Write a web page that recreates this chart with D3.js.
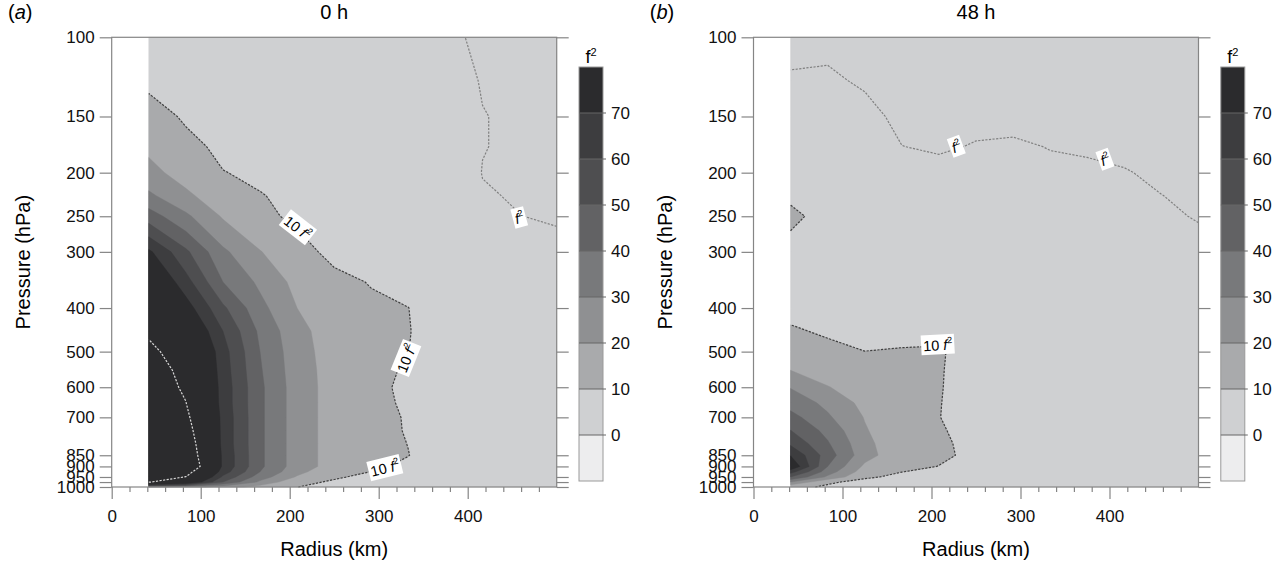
<!DOCTYPE html>
<html><head><meta charset="utf-8">
<script src="https://cdn.jsdelivr.net/npm/d3@7"></script>
<style>body{margin:0;background:#fff}svg{display:block;font-family:"Liberation Sans",Arial,Helvetica,sans-serif}</style>
</head><body>
<svg id="c" width="1285" height="564"></svg>
<script>
// ---------------- data ----------------
const radii = [41.67, 83.33, 125, 166.67, 208.33, 250, 291.67, 333.33, 375, 416.67, 458.33, 500];
const levels = [100,125,150,175,200,225,250,300,350,400,450,500,550,600,650,700,750,800,850,900,925,950,975,1000];
// values in units of f^2, rows follow `levels`, columns follow `radii`
const field0h = [
 [6, 5.5, 5, 4.5, 4, 3.5, 3, 2.5, 1.8, 0.3, 0.2, 0.1],
 [8.5, 7.5, 6.5, 5.5, 5, 4.5, 4, 3.5, 2.5, 0.8, 0.4, 0.3],
 [13, 9.1, 8, 7, 6, 5, 4.5, 4, 3, 1.1, 0.5, 0.4],
 [18, 11.9, 8.5, 8, 7, 6, 5, 4.5, 3.5, 1.1, 0.5, 0.4],
 [23, 16, 10.2, 8.8, 7.5, 6.5, 5.5, 5, 4, 0.9, 0.5, 0.4],
 [32, 22, 14, 10.3, 8.5, 7.5, 6.5, 5.5, 4.5, 1.3, 0.7, 0.5],
 [45, 32, 19, 11.2, 9, 8, 7, 6, 5, 2, 1.05, 0.6],
 [72, 52, 32, 20.5, 12, 8.5, 7.5, 6.5, 5.5, 4, 3, 2.1],
 [85, 64, 40, 28, 17, 11.5, 9.7, 8.5, 6.5, 5, 4, 3.5],
 [93, 75, 52, 33, 20, 14, 11, 10.05, 7, 5.5, 4.5, 4],
 [98, 85, 60, 38, 23, 15, 11.5, 10.2, 7.5, 5.5, 4.5, 4],
 [103, 93.4, 64, 40, 24, 15.5, 11.5, 10.05, 7.5, 5.5, 4.5, 4],
 [107, 96, 65, 41, 24.5, 16, 11, 9.6, 7, 5.5, 4.5, 4],
 [110, 97.6, 66, 42, 25, 16, 11.5, 8.8, 7, 5.5, 4.5, 4],
 [112, 100.3, 66, 42, 25, 16, 11.5, 9.2, 7, 5.5, 4.5, 4],
 [113, 104, 67, 42, 25, 16, 12, 9.5, 7, 5.5, 4.5, 4],
 [114, 108, 67, 42, 25, 16, 12, 9.6, 7, 5.5, 4.5, 4],
 [114, 112, 67, 42, 25, 16, 12, 9.9, 7, 5.5, 4.5, 4],
 [113, 115, 68, 42, 25, 16, 12, 10.1, 7, 5.5, 4.5, 4],
 [112, 120, 68, 42, 25, 16, 11, 9, 7, 5.5, 4.5, 4],
 [110, 108, 65, 40, 23, 12.5, 9.9, 8.5, 6.5, 5, 4.2, 3.8],
 [110, 99.5, 58, 35, 19, 11, 8, 7, 6, 4.8, 4, 3.6],
 [101, 85, 50, 28, 12, 9, 7, 6, 5, 4.5, 3.8, 3.5],
 [40, 35, 25, 16, 10.1, 7, 6, 5, 4.5, 4, 3.5, 3.2]
];
const field48h = [
 [0.6, 0.6, 0.5, 0.4, 0.4, 0.4, 0.4, 0.4, 0.4, 0.4, 0.4, 0.4],
 [1.15, 1.25, 0.8, 0.5, 0.5, 0.5, 0.5, 0.5, 0.5, 0.5, 0.5, 0.5],
 [2, 2, 1.5, 0.6, 0.6, 0.6, 0.6, 0.6, 0.6, 0.5, 0.5, 0.5],
 [3, 3, 2.5, 1.02, 0.8, 1.1, 1.2, 0.95, 0.8, 0.6, 0.5, 0.5],
 [4, 4, 3.5, 2, 1.5, 2, 2, 1.3, 1.3, 1.1, 0.7, 0.6],
 [8, 5, 4, 3, 2.5, 2.5, 2.5, 2, 2, 1.6, 1.02, 0.7],
 [12.5, 6, 4.5, 3.5, 3, 3, 3, 2.5, 2.5, 2, 1.5, 0.8],
 [6, 5.5, 4.5, 4, 3.5, 3.5, 3.5, 3, 3, 2.5, 2.2, 2],
 [6.5, 5.5, 5, 4.5, 4, 4, 4, 3.5, 3.5, 3, 2.8, 2.5],
 [8, 7, 6, 5, 4.5, 4.5, 4.5, 4, 4, 3.5, 3.2, 3],
 [10.8, 9.1, 8, 8, 8, 6, 5, 4.5, 4.5, 4, 3.5, 3.2],
 [14.5, 11.75, 10.05, 10.5, 10.8, 6.6, 5.5, 5, 4.5, 4, 3.5, 3.2],
 [20, 15, 12.5, 10.8, 10.5, 7, 5.8, 5, 4.5, 4, 3.5, 3.2],
 [29.5, 20.5, 14.5, 11, 10.4, 7, 6, 5, 4.5, 4, 3.5, 3.2],
 [36, 27.5, 17, 11.2, 10.25, 7, 6, 5, 4.5, 4, 3.5, 3.2],
 [43.5, 31.5, 19.5, 11.5, 10.15, 7, 6, 5, 4.5, 4, 3.5, 3.2],
 [50.3, 37, 21, 12, 10.8, 7.2, 6, 5, 4.5, 4, 3.5, 3.2],
 [58, 41, 23, 12, 11.5, 7.5, 6, 5, 4.5, 4, 3.5, 3.2],
 [69.5, 45, 24, 12.9, 12, 7.5, 6, 5, 4.5, 4, 3.5, 3.2],
 [80, 40, 18, 13, 9.8, 7, 6, 5, 4.5, 4, 3.5, 3.2],
 [64, 35, 15, 10.1, 8.5, 6.5, 5.5, 5, 4.5, 4, 3.5, 3.2],
 [50, 28, 11, 8.5, 7.5, 6, 5.5, 4.8, 4.3, 3.8, 3.4, 3.1],
 [30, 11, 8, 7, 6.5, 5.5, 5, 4.6, 4.2, 3.7, 3.3, 3],
 [12, 9, 7, 6, 5.5, 5, 4.6, 4.3, 4, 3.6, 3.2, 2.9]
];
const shadeLevels = [0, 10, 20, 30, 40, 50, 60, 70];
const shadeColors = ["#ededee", "#cfd0d2", "#a9aaac", "#8f9092", "#78797b", "#626264", "#4e4e50", "#3d3d3f", "#2b2b2d"];
const lineLevels = [1, 10, 100];
const lineColors = ["#808080", "#404040", "#d6d6d6"];
const pTicks = [100, 150, 200, 250, 300, 400, 500, 600, 700, 850, 900, 950, 975, 1000];
const pTickLabels = ["100", "150", "200", "250", "300", "400", "500", "600", "700", "850", "900", "950", "", "1000"];
const rTicks = [0, 100, 200, 300, 400];
const rMinorTicks = [20, 40, 60, 80, 120, 140, 160, 180, 220, 240, 260, 280, 320, 340, 360, 380, 420, 440, 460, 480];
const panelTitles = ["0 h", "48 h"];
const panelTags = ["a", "b"];
const cbLabels = [0, 10, 20, 30, 40, 50, 60, 70];
// contour labels: radius, pressure, angle, coefficient text
const labels0h = [
 {r: 209, p: 265, a: 38, t: "10 "},
 {r: 331, p: 517, a: -68, t: "10 "},
 {r: 307, p: 907, a: -14, t: "10 "},
 {r: 458, p: 252, a: -15, t: ""}
];
const labels48h = [
 {r: 228, p: 175, a: -20, t: ""},
 {r: 395, p: 187, a: -20, t: ""},
 {r: 207, p: 483, a: -3, t: "10 "}
];

// ---------------- drawing ----------------
const svg = d3.select("#c");
const W = 445, X0 = 111.7, DX = 641.8;
const y = d3.scaleLog().domain([100, 1000]).range([37.3, 487]);
const nx = radii.length, ny = levels.length;
function idx(arr, c) {
  const n = arr.length;
  const s = Math.max(0, Math.min(n - 1, c - 0.5));
  const i = Math.min(n - 2, Math.floor(s)), f = s - i;
  return arr[i] + (arr[i + 1] - arr[i]) * f;
}
function sIdx(c, n) { return Math.max(0, Math.min(n - 1, c - 0.5)); }
function onBoundary(a, b) {
  const ax = sIdx(a[0], nx), bx = sIdx(b[0], nx), ay = sIdx(a[1], ny), by = sIdx(b[1], ny);
  return (ax === 0 && bx === 0) || (ax === nx - 1 && bx === nx - 1) ||
         (ay === 0 && by === 0) || (ay === ny - 1 && by === ny - 1);
}

function drawPanel(k, field, labels) {
  const x0 = X0 + k * DX;
  const x = d3.scaleLinear().domain([0, 500]).range([x0, x0 + W]);
  const g = svg.append("g");
  const values = field.flat();
  const proj = d3.geoTransform({point(cx, cy) { this.stream.point(x(idx(radii, cx)), y(idx(levels, cy))); }});
  const path = d3.geoPath(proj);
  const px = (pt) => [x(idx(radii, pt[0])), y(idx(levels, pt[1]))];

  g.append("rect").attr("x", x(radii[0])).attr("y", y(levels[0]))
    .attr("width", x(radii[nx - 1]) - x(radii[0])).attr("height", y(levels[ny - 1]) - y(levels[0]))
    .attr("fill", shadeColors[0]);
  d3.contours().size([nx, ny]).thresholds(shadeLevels)(values).forEach((c, i) => {
    g.append("path").attr("d", path(c)).attr("fill", shadeColors[i + 1])
      .attr("stroke", shadeColors[i + 1]).attr("stroke-width", 0.4);
  });

  // contour lines (interior parts only)
  d3.contours().size([nx, ny]).thresholds(lineLevels)(values).forEach((c, li) => {
    const lines = [];
    c.coordinates.forEach(poly => poly.forEach(ringIn => {
      let ring = ringIn.slice(0, -1);
      const m = ring.length;
      let start = -1;
      for (let i = 0; i < m; i++) if (onBoundary(ring[i], ring[(i + 1) % m])) { start = i + 1; break; }
      if (start < 0) { lines.push(ringIn.map(px)); return; }
      ring = ring.slice(start).concat(ring.slice(0, start));
      let cur = [];
      for (let i = 0; i < m; i++) {
        const a = ring[i], b = ring[(i + 1) % m];
        if (onBoundary(a, b)) { if (cur.length > 1) lines.push(cur); cur = []; continue; }
        if (!cur.length) cur.push(px(a));
        cur.push(px(b));
      }
      if (cur.length > 1) lines.push(cur);
    }));
    lines.forEach(l => g.append("path").attr("d", d3.line()(l)).attr("fill", "none")
      .attr("stroke", lineColors[li]).attr("stroke-width", 1.2).attr("stroke-dasharray", "2.2,1.4"));
  });

  // labels
  labels.forEach(L => {
    const lg = g.append("g").attr("transform", `translate(${x(L.r)},${y(L.p)}) rotate(${L.a})`);
    const t = lg.append("text").attr("text-anchor", "middle").attr("dy", "0.38em")
      .attr("font-size", 14.5).attr("fill", "#000");
    if (L.t) t.append("tspan").text(L.t);
    t.append("tspan").attr("font-style", "italic").text("f");
    t.append("tspan").attr("font-size", 9).attr("dy", "-0.75em").text("2");
    const bb = t.node().getBBox();
    lg.insert("rect", "text").attr("x", bb.x - 2).attr("y", bb.y - 1)
      .attr("width", bb.width + 4).attr("height", bb.height + 2).attr("fill", "#fff");
  });

  // frame and axes
  g.append("rect").attr("x", x0).attr("y", y(100)).attr("width", W).attr("height", y(1000) - y(100))
    .attr("fill", "none").attr("stroke", "#858585").attr("stroke-width", 1.2);
  const styleAxis = (a) => { a.select(".domain").remove(); a.selectAll("line").attr("stroke", "#858585").attr("stroke-width", 1.2);
    a.selectAll("text").attr("font-size", 17).attr("fill", "#111").attr("font-family", '"Liberation Sans",Arial,sans-serif'); };
  g.append("g").attr("transform", `translate(${x0},0)`)
    .call(d3.axisLeft(y).tickValues(pTicks).tickFormat((d, i) => pTickLabels[i]).tickSize(12).tickPadding(5)).call(styleAxis);
  g.append("g").attr("transform", `translate(${x0 + W},0)`)
    .call(d3.axisRight(y).tickValues(pTicks).tickFormat("").tickSize(12)).call(styleAxis);
  g.append("g").attr("transform", `translate(0,${y(1000)})`)
    .call(d3.axisBottom(x).tickValues(rTicks).tickSize(12).tickPadding(11)).call(styleAxis);
  g.append("g").attr("transform", `translate(0,${y(1000)})`)
    .call(d3.axisBottom(x).tickValues(rMinorTicks).tickFormat("").tickSize(5)).call(styleAxis);

  // titles
  g.append("text").attr("x", x0 + W / 2).attr("y", 556).attr("text-anchor", "middle")
    .attr("font-size", 20).text("Radius (km)");
  g.append("text").attr("transform", `translate(${x0 - 82},${(y(100) + y(1000)) / 2}) rotate(-90)`)
    .attr("text-anchor", "middle").attr("font-size", 20).text("Pressure (hPa)");
  g.append("text").attr("x", x0 + W / 2).attr("y", 19).attr("text-anchor", "middle")
    .attr("font-size", 20).text(panelTitles[k]);
  const tg = g.append("text").attr("x", 8 + k * DX).attr("y", 19).attr("font-size", 20);
  tg.append("tspan").text("(");
  tg.append("tspan").attr("font-style", "italic").text(panelTags[k]);
  tg.append("tspan").text(")");

  // colorbar
  const cx = 579 + k * DX, cw = 24, top = 67, bh = 46;
  const cb = d3.scaleLinear().domain([80, -10]).range([top, top + 9 * bh]);
  const bounds = [-10].concat(shadeLevels).concat([80]);
  for (let i = 0; i < shadeColors.length; i++) {
    g.append("rect").attr("x", cx).attr("y", cb(bounds[i + 1])).attr("width", cw)
      .attr("height", cb(bounds[i]) - cb(bounds[i + 1])).attr("fill", shadeColors[i]);
  }
  g.append("rect").attr("x", cx).attr("y", cb(80)).attr("width", cw).attr("height", cb(-10) - cb(80))
    .attr("fill", "none").attr("stroke", "#9a9a9a").attr("stroke-width", 1);
  cbLabels.forEach(v => {
    g.append("line").attr("x1", cx).attr("x2", cx + cw + 3).attr("y1", cb(v)).attr("y2", cb(v))
      .attr("stroke", "#666").attr("stroke-width", 1);
    g.append("text").attr("x", cx + cw + 8).attr("y", cb(v)).attr("dy", "0.36em")
      .attr("font-size", 17).attr("fill", "#111").text(v);
  });
  const ft = g.append("text").attr("x", cx + cw / 2).attr("y", top - 4).attr("text-anchor", "middle").attr("font-size", 18);
  ft.append("tspan").text("f");
  ft.append("tspan").attr("font-size", 11).attr("dy", "-0.6em").text("2");
}

drawPanel(0, field0h, labels0h);
drawPanel(1, field48h, labels48h);
</script>
</body></html>
